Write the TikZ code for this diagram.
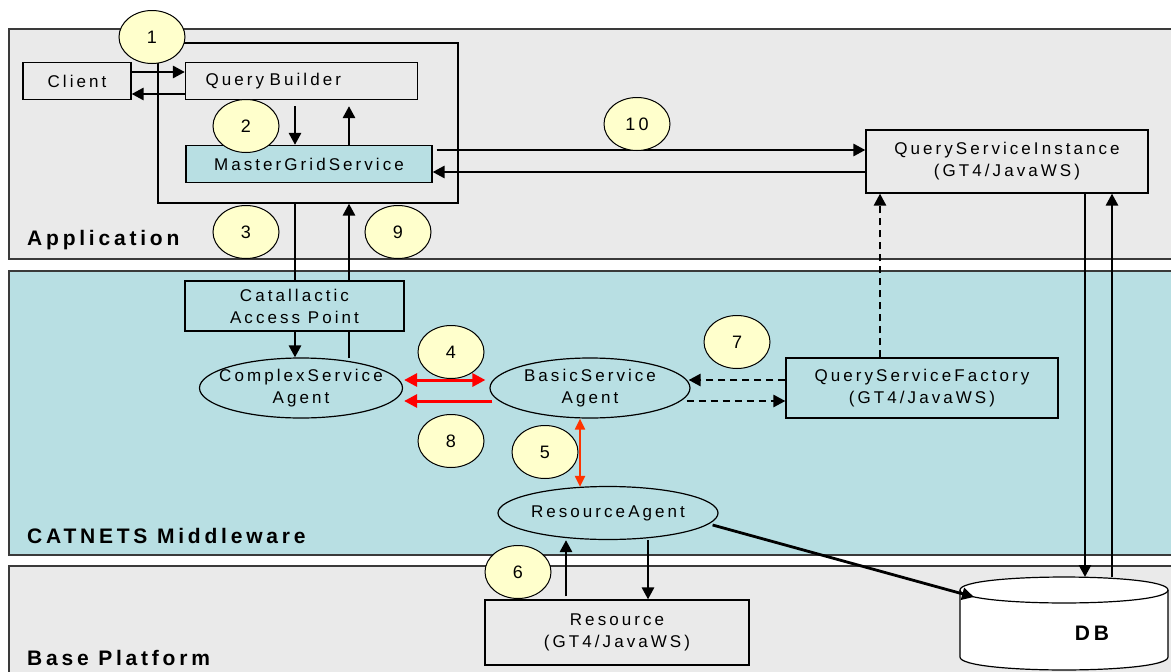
\documentclass[tikz,border=0pt]{standalone}
\usepackage{fontspec}
\setmainfont{Liberation Sans}[LetterSpace=18]
\usepackage{tikz}
\usetikzlibrary{arrows.meta, positioning, shapes.geometric}

\definecolor{appgray}{HTML}{EAEAEA}
\definecolor{mwblue}{HTML}{B8DFE3}
\definecolor{stepyellow}{HTML}{FFFFCC}
\definecolor{msgred}{HTML}{FF0000}
\definecolor{resred}{HTML}{FF3300}
\definecolor{edgegray}{HTML}{3A3A3A}

\tikzset{
  layer/.style={draw=edgegray, line width=1.5pt},
  layername/.style={anchor=base west, inner sep=0pt, font=\fontsize{21}{24}\selectfont\bfseries},
  compbox/.style={draw, line width=1.2pt, fill=appgray, minimum height=37pt, inner sep=0pt,
    font=\fontsize{17}{22}\selectfont},
  agent/.style={ellipse, draw, line width=1.2pt, fill=mwblue, inner xsep=-40pt, inner ysep=-14pt,
    align=center, font=\fontsize{17}{22}\selectfont},
  stepno/.style={ellipse, draw, line width=1pt, fill=stepyellow, minimum width=66pt,
    minimum height=53pt, inner sep=0pt, font=\fontsize{18}{20}\selectfont},
  flow/.style={->, line width=2.8pt},
  redflow/.style={line width=3pt, draw=msgred, -{Triangle[length=13pt,width=13pt]}},
  dashflow/.style={->, line width=2.6pt, dash pattern=on 7pt off 5pt},
}

\begin{document}
\begin{tikzpicture}[x=1pt, y=-1pt, >={Triangle[length=12pt,width=12pt]}]
  \useasboundingbox (0,0) rectangle (1171,672);

  % layers
  \draw[layer, fill=appgray] (9,29) rectangle (1190,259);
  \draw[layer, fill=mwblue] (9,271) rectangle (1190,555);
  \draw[layer, fill=appgray] (9,566) rectangle (1190,700);
  \node[layername] (appname) at (27,245) {Application};
  \node[layername] (mwname) at (27,543) {CATNETS Middleware};
  \node[layername] (basename) at (27,665) {Base Platform};

  % application
  \node[draw, line width=1.2pt, minimum width=300pt, minimum height=160pt] (appbox) at (308,123) {};
  \node[compbox, minimum width=108pt] (client) at (77,81) {Client};
  \node[compbox, text width=192pt, align=left, inner xsep=20pt] (qb) at (301.5,81) {Query Builder};
  \node[compbox, fill=mwblue, minimum width=246pt] (mgs) at (309,164) {MasterGridService};
  \node[compbox, minimum width=282pt, minimum height=63pt, align=center] (qsi) at (1007,161.5)
    {QueryServiceInstance\\(GT4/JavaWS)};

  % middleware
  \node[compbox, fill=mwblue, minimum width=219pt, minimum height=50pt, align=center] (cap) at (294.5,306)
    {Catallactic\\Access Point};
  \node[agent, minimum width=203pt, minimum height=60pt] (csa) at (301,388) {ComplexService\\Agent};
  \node[agent, minimum width=200pt, minimum height=60pt] (bsa) at (590,388) {BasicService\\Agent};
  \node[compbox, fill=mwblue, minimum width=272pt, minimum height=60pt, align=center] (qsf) at (922,388)
    {QueryServiceFactory\\(GT4/JavaWS)};
  \node[agent, minimum width=220pt, minimum height=53pt] (ra) at (608,513) {ResourceAgent};

  % base platform
  \node[compbox, minimum width=264pt, minimum height=65pt, align=center] (res) at (617,632.5)
    {Resource\\(GT4/JavaWS)};
  \filldraw[fill=white, line width=1.2pt] (960,590) -- (960,657)
    .. controls (960,674.3) and (1168,674.3) .. (1168,657) -- (1168,590)
    .. controls (1168,572.7) and (960,572.7) .. (960,590) -- cycle;
  \draw[line width=1.2pt] (960,590) .. controls (960,607.3) and (1168,607.3) .. (1168,590);
  \node[inner sep=0pt, font=\fontsize{21}{24}\selectfont\bfseries] (db) at (1092,633) {DB};
  \coordinate (dbin) at (1085,577);
  \coordinate (dbout) at (1112,577);
  \coordinate (dbside) at (974,597);

  % connectors
  \draw[flow] ([yshift=9pt]client.east) -- ([yshift=9pt]qb.west);
  \draw[flow] ([yshift=-13pt]qb.west) -- ([yshift=-13pt]client.east);
  \draw[flow] ([yshift=-6pt]qb.south -| 295,0) -- (mgs.north -| 295,0);
  \draw[flow] (mgs.north -| 349,0) -- ([yshift=-6pt]qb.south -| 349,0);
  \draw[flow] ([xshift=4pt,yshift=14pt]mgs.east) -- ([yshift=11.5pt]qsi.west);
  \draw[flow] ([yshift=-10.5pt]qsi.west) -- ([yshift=-8pt]mgs.east);
  \draw[line width=2.8pt] (appbox.south -| 295,0) -- (cap.north -| 295,0);
  \draw[flow] (cap.south -| 295,0) -- (csa.north -| 295,0);
  \draw[line width=2.8pt] ([yshift=-1pt]csa.north -| 349,0) -- (cap.south -| 349,0);
  \draw[flow] (cap.north -| 349,0) -- (appbox.south -| 349,0);

  \draw[redflow, {Triangle[length=13pt,width=13pt]}-{Triangle[length=13pt,width=13pt]}]
    ([xshift=1pt,yshift=8pt]csa.east) -- ([xshift=-4pt,yshift=8pt]bsa.west);
  \draw[redflow] ([xshift=3pt,yshift=-13pt]bsa.west) -- ([xshift=1pt,yshift=-13pt]csa.east);
  \draw[line width=2pt, draw=resred, {Triangle[length=11pt,width=10pt]}-{Triangle[length=11pt,width=10pt]}]
    (bsa.south -| 580,0) -- ([yshift=-1pt]ra.north -| 580,0);

  \draw[dashflow] ([yshift=8pt]qsf.west) -- ([xshift=-2pt,yshift=8pt]bsa.east);
  \draw[dashflow] ([xshift=-4pt,yshift=-13pt]bsa.east) -- ([yshift=-13pt]qsf.west);
  \draw[dashflow] (qsf.north -| 880,0) -- (qsi.south -| 880,0);

  \draw[flow] (qsi.south -| dbin) -- (dbin);
  \draw[flow] (dbout) -- (qsi.south -| dbout);
  \draw[flow] ([xshift=-6pt,yshift=-12pt]ra.east) -- (dbside);
  \draw[flow] ([yshift=3pt]res.north -| 566,0) -- (ra.south -| 566,0);
  \draw[flow] (ra.south -| 648,0) -- (res.north -| 648,0);

  % step numbers
  \node[stepno] (s1) at (152,37) {1};
  \node[stepno] (s2) at (246,126) {2};
  \node[stepno] (s3) at (246,232) {3};
  \node[stepno] (s9) at (398,232) {9};
  \node[stepno] (s10) at (637,124) {10};
  \node[stepno] (s4) at (451,352) {4};
  \node[stepno] (s8) at (451,441) {8};
  \node[stepno] (s5) at (545,452) {5};
  \node[stepno] (s7) at (737,342) {7};
  \node[stepno] (s6) at (518,572) {6};
\end{tikzpicture}
\end{document}
